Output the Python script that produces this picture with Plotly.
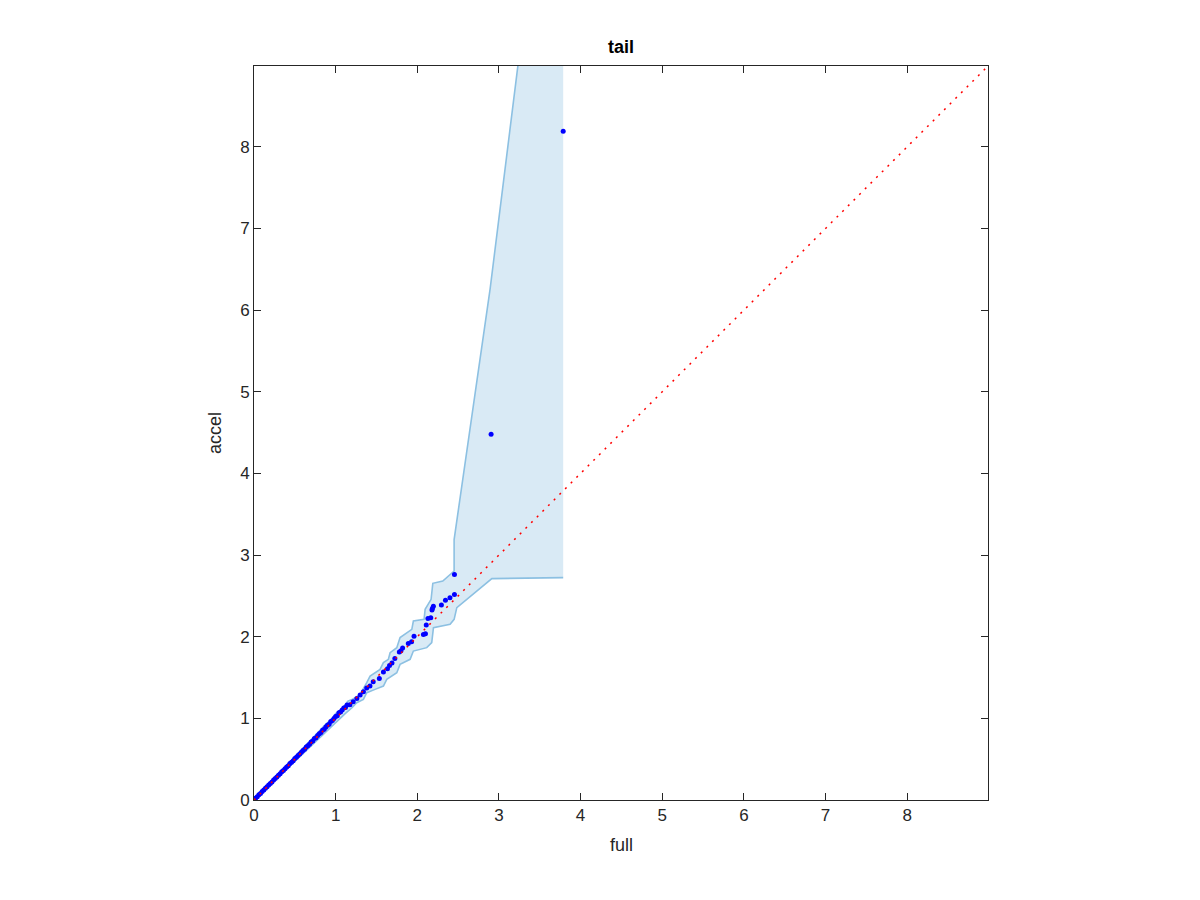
import plotly.graph_objects as go

# ---- data ----
full_pts = [0.00, 0.02, 0.04, 0.06, 0.08, 0.10, 0.12, 0.14, 0.16, 0.18,
            0.20, 0.22, 0.24, 0.26, 0.28, 0.30, 0.32, 0.34, 0.36, 0.38,
            0.40, 0.42, 0.44, 0.46, 0.48, 0.50, 0.52, 0.54, 0.56, 0.58,
            0.60, 0.62, 0.64, 0.66, 0.68, 0.70, 0.72, 0.74, 0.76, 0.78,
            0.80, 0.82, 0.84, 0.86, 0.88, 0.90, 0.92, 0.94, 0.96, 0.98,
            1.00, 1.02, 1.04, 1.06, 1.08, 1.10, 1.12, 1.14,
            1.175, 1.215, 1.26, 1.30, 1.34, 1.38, 1.42, 1.46, 1.535, 1.585,
            1.635, 1.66, 1.69, 1.725, 1.78, 1.80, 1.82, 1.89, 1.93, 1.96,
            2.075, 2.10, 2.11, 2.13, 2.165, 2.18, 2.185, 2.197, 2.295, 2.345,
            2.40, 2.455, 2.455, 2.904, 3.787]
accel_pts = [0.000, 0.022, 0.041, 0.063, 0.081, 0.104, 0.122, 0.143, 0.161, 0.184,
             0.203, 0.221, 0.245, 0.262, 0.283, 0.304, 0.321, 0.345, 0.362, 0.384,
             0.405, 0.421, 0.446, 0.463, 0.482, 0.507, 0.523, 0.546, 0.562, 0.586,
             0.607, 0.622, 0.648, 0.664, 0.683, 0.709, 0.724, 0.752, 0.763, 0.791,
             0.812, 0.826, 0.855, 0.868, 0.893, 0.917, 0.929, 0.962, 0.975, 0.998,
             1.024, 1.031, 1.068, 1.079, 1.102, 1.128, 1.134, 1.165,
             1.167, 1.202, 1.242, 1.287, 1.327, 1.372, 1.397, 1.447, 1.487, 1.567,
             1.607, 1.647, 1.677, 1.732, 1.812, 1.827, 1.862, 1.917, 1.937, 2.007,
             2.027, 2.037, 2.142, 2.222, 2.232, 2.327, 2.347, 2.372, 2.387, 2.447,
             2.477, 2.517, 2.762, 4.480, 8.190]

band_upper_x = [0.0, 0.3, 0.6, 0.7, 0.8, 0.88, 0.95, 1.0, 1.08, 1.15, 1.2,
                1.238, 1.299, 1.381, 1.422, 1.544, 1.585, 1.646, 1.667, 1.749,
                1.789, 1.933, 1.952, 2.083, 2.096, 2.169, 2.190, 2.312, 2.451,
                2.451, 2.892, 3.787]
band_upper_y = [0.0, 0.32, 0.63, 0.74, 0.845, 0.93, 0.99, 1.06, 1.12, 1.21, 1.23,
                1.253, 1.294, 1.437, 1.518, 1.600, 1.682, 1.723, 1.805, 1.866,
                1.989, 2.090, 2.192, 2.213, 2.335, 2.458, 2.654, 2.682, 2.805,
                3.190, 6.260, 13.45]
band_lower_x = [0.0, 0.3, 0.6, 0.7, 0.8, 0.9, 0.98, 1.05, 1.12, 1.2,
                1.258, 1.340, 1.381, 1.483, 1.585, 1.626, 1.749, 1.789, 1.912,
                1.952, 2.116, 2.177, 2.198, 2.402, 2.451, 2.484, 2.913, 3.787]
band_lower_y = [0.0, 0.285, 0.575, 0.665, 0.76, 0.85, 0.93, 0.99, 1.06, 1.13,
                1.192, 1.232, 1.314, 1.355, 1.396, 1.478, 1.559, 1.661, 1.723,
                1.824, 1.866, 1.927, 2.111, 2.152, 2.213, 2.356, 2.712, 2.724]

ref_x = [0, 9]
ref_y = [0, 9]
tick_vals = [0, 1, 2, 3, 4, 5, 6, 7, 8]
tick_text = ["0", "1", "2", "3", "4", "5", "6", "7", "8"]
axis_max = 8.99

FONT = "Liberation Sans, Arial, Helvetica, sans-serif"
AX = "#262626"

fig = go.Figure()

# band fill (no edge)
fig.add_trace(go.Scatter(
    x=band_upper_x + band_lower_x[::-1],
    y=band_upper_y + band_lower_y[::-1],
    mode="lines", fill="toself", fillcolor="rgb(217,234,245)",
    line=dict(width=0), hoverinfo="skip", showlegend=False))
# band edges
fig.add_trace(go.Scatter(x=band_upper_x, y=band_upper_y, mode="lines",
                         line=dict(color="rgb(140,192,226)", width=1.6),
                         showlegend=False))
fig.add_trace(go.Scatter(x=band_lower_x, y=band_lower_y, mode="lines",
                         line=dict(color="rgb(140,192,226)", width=1.6),
                         showlegend=False))
# points
fig.add_trace(go.Scatter(x=full_pts, y=accel_pts, mode="markers",
                         marker=dict(color="rgb(0,0,255)", size=5, line=dict(width=0)),
                         showlegend=False))
# reference line
fig.add_trace(go.Scatter(x=ref_x, y=ref_y, mode="lines",
                         line=dict(color="rgb(255,0,0)", width=1.5, dash="2px,6px"),
                         showlegend=False))

axis_common = dict(
    range=[0, axis_max], showgrid=False, zeroline=False,
    showline=True, linecolor=AX, linewidth=1, mirror="ticks",
    ticks="inside", ticklen=7, tickwidth=1, tickcolor=AX,
    tickvals=tick_vals, ticktext=tick_text,
    tickfont=dict(family=FONT, size=17, color=AX),
)

fig.update_layout(
    width=1200, height=900,
    margin=dict(l=246, r=220, t=58, b=108),
    paper_bgcolor="white", plot_bgcolor="white",
    xaxis=axis_common, yaxis=axis_common,
    annotations=[
        dict(text="<b>tail</b>", x=0.5, y=1, xref="paper", yref="paper",
             xanchor="center", yanchor="bottom", yshift=7, showarrow=False,
             font=dict(family=FONT, size=18, color="black")),
        dict(text="full", x=0.5, y=0, xref="paper", yref="paper",
             xanchor="center", yanchor="top", yshift=-33, showarrow=False,
             font=dict(family=FONT, size=18, color=AX)),
        dict(text="accel", x=0, y=0.5, xref="paper", yref="paper",
             xanchor="right", yanchor="middle", xshift=-27, textangle=-90,
             showarrow=False, font=dict(family=FONT, size=18, color=AX)),
    ],
)

fig.write_html("out.html")
